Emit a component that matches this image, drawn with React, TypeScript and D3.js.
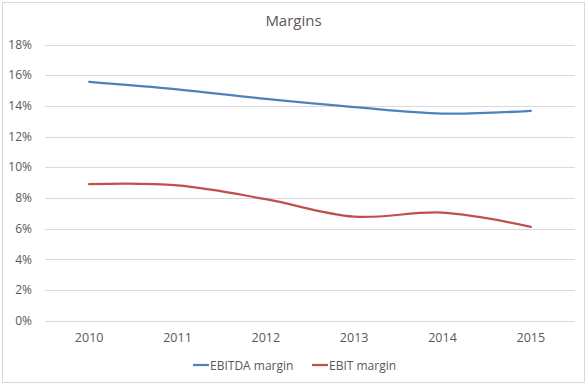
import React, { useEffect, useRef } from "react";
import * as d3 from "d3";

const years = ["2010", "2011", "2012", "2013", "2014", "2015"];
const ebitda = [15.57, 15.08, 14.45, 13.92, 13.5, 13.68];
const ebit = [8.9, 8.82, 7.92, 6.78, 7.04, 6.12];
const yTicks = [0, 2, 4, 6, 8, 10, 12, 14, 16, 18];

const series = [
    { name: "EBITDA margin", values: ebitda, color: "#4F81BD" },
    { name: "EBIT margin", values: ebit, color: "#C0504D" },
];

const W = 588;
const H = 386;
const font = "Open Sans, Noto Sans, sans-serif";

const App = () => {
    const ref = useRef(null);

    useEffect(() => {
        const svg = d3.select(ref.current);
        svg.selectAll("*").remove();

        const x = d3.scaleBand().domain(years).range([45, 575]);
        const y = d3.scaleLinear().domain([0, 18]).range([320.7, 44.5]);

        svg.append("rect")
            .attr("x", 2.5).attr("y", 2.5)
            .attr("width", 582).attr("height", 380)
            .attr("fill", "white")
            .attr("stroke", "#d9d9d9");

        svg.append("text")
            .attr("x", 293.5).attr("y", 26)
            .attr("text-anchor", "middle")
            .style("font-family", font)
            .style("font-size", "15px")
            .style("fill", "#595959")
            .text("Margins");

        const grid = svg.append("g");
        grid.selectAll("line")
            .data(yTicks)
            .join("line")
            .attr("x1", 45).attr("x2", 575)
            .attr("y1", d => Math.round(y(d)) + 0.5)
            .attr("y2", d => Math.round(y(d)) + 0.5)
            .attr("stroke", "#d9d9d9");

        grid.selectAll("text")
            .data(yTicks)
            .join("text")
            .attr("x", 32).attr("y", d => y(d))
            .attr("dy", "0.35em")
            .attr("text-anchor", "end")
            .style("font-family", font)
            .style("font-size", "12px")
            .style("fill", "#595959")
            .text(d => d + "%");

        svg.append("g").selectAll("text")
            .data(years)
            .join("text")
            .attr("x", d => x(d) + x.bandwidth() / 2)
            .attr("y", 337.5)
            .attr("dy", "0.35em")
            .attr("text-anchor", "middle")
            .style("font-family", font)
            .style("font-size", "12.5px")
            .style("fill", "#595959")
            .text(d => d);

        const line = d3.line()
            .x((d, i) => x(years[i]) + x.bandwidth() / 2)
            .y(d => y(d))
            .curve(d3.curveCatmullRom.alpha(0.5));

        svg.append("g").selectAll("path")
            .data(series)
            .join("path")
            .attr("d", d => line(d.values))
            .attr("fill", "none")
            .attr("stroke", d => d.color)
            .attr("stroke-width", 2.25)
            .attr("stroke-linecap", "round");

        const legend = svg.append("g");
        const lx = [193, 312];
        series.forEach((s, i) => {
            legend.append("line")
                .attr("x1", lx[i]).attr("x2", lx[i] + 16)
                .attr("y1", 365).attr("y2", 365)
                .attr("stroke", s.color)
                .attr("stroke-width", 2.25);
            legend.append("text")
                .attr("x", lx[i] + 17).attr("y", 365.5)
                .attr("dy", "0.35em")
                .style("font-family", font)
                .style("font-size", "12px")
                .style("fill", "#595959")
                .text(s.name);
        });
    }, []);

    return (
        <svg ref={ref} width={W} height={H} style={{ position: "absolute", left: 0, top: 0 }} />
    );
};

export default App;
